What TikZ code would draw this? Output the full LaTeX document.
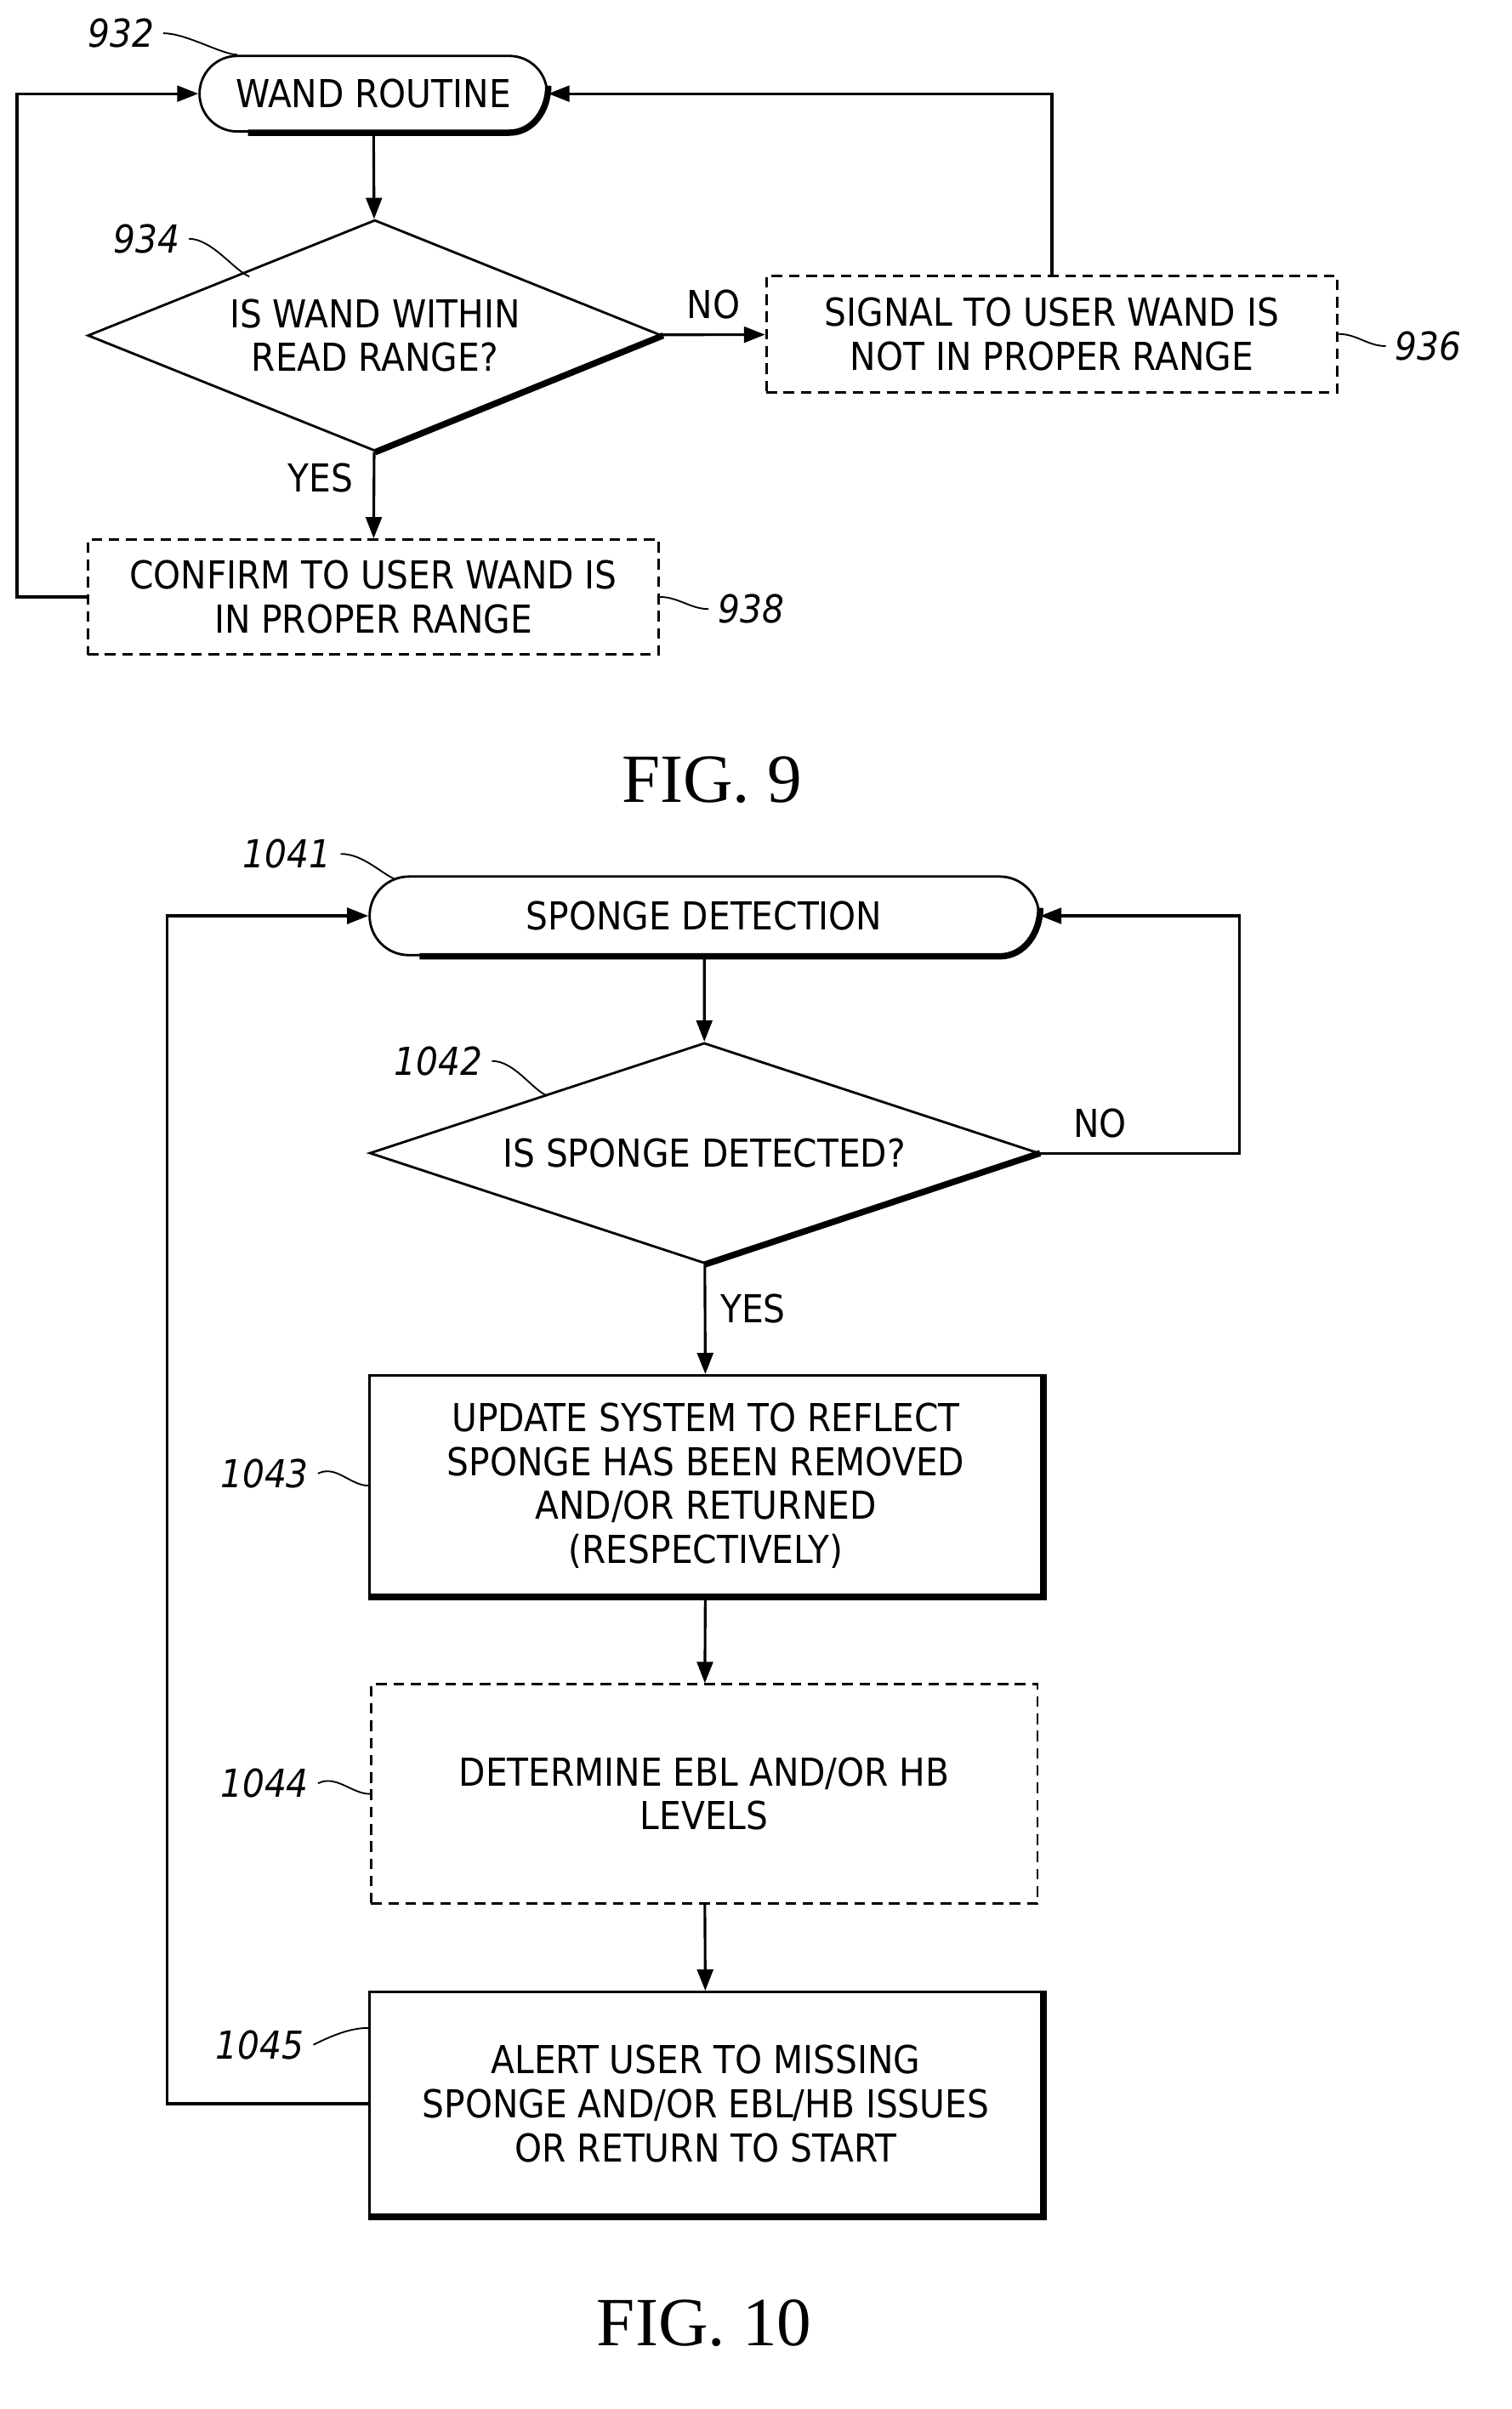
\documentclass[tikz,border=0pt]{standalone}
\usepackage{fontspec}
\setmainfont{DejaVu Sans Condensed}
\newfontfamily\figfont{Liberation Serif}
\usetikzlibrary{shapes.geometric,shapes.misc,arrows.meta}

\tikzset{
  box/.style={draw, line width=0.9pt, align=center, inner sep=0pt, font=\fontsize{14.5}{16.5}\selectfont},
  dashbox/.style={box, dash pattern=on 4pt off 2.5pt},
  term/.style={box, rounded rectangle},
  dec/.style={box, diamond, aspect=2.5},
  edge/.style={line width=2.4pt},
  flow/.style={line width=1pt, -{Triangle[length=8pt,width=6pt]}},
  ref/.style={font=\fontsize{14.5}{16.5}\selectfont\itshape},
  lbl/.style={font=\fontsize{14.5}{16.5}\selectfont},
  lead/.style={line width=0.6pt}
}

\begin{document}
\begin{tikzpicture}[x=0.02cm, y=-0.02cm]
  \useasboundingbox (0,0) rectangle (1000,1594);

  % FIG. 9
  \node[term, minimum width=4.6cm, minimum height=1cm] (wand) at (247,62) {WAND ROUTINE};
  \node[dec, minimum width=7.6cm, minimum height=3.06cm] (range) at (248,222) {IS WAND WITHIN\\READ RANGE?};
  \node[dashbox, minimum width=7.56cm, minimum height=1.54cm] (signal) at (696,221) {SIGNAL TO USER WAND IS\\NOT IN PROPER RANGE};
  \node[dashbox, minimum width=7.56cm, minimum height=1.52cm] (confirm) at (247,395) {CONFIRM TO USER WAND IS\\IN PROPER RANGE};
  \draw[edge] ([xshift=4pt]wand.south west) -- (wand.south east) to[out=0, in=-90] ([yshift=3pt]wand.east);
  \draw[edge] (range.east) -- (range.south);

  \draw[flow] (wand) -- (range);
  \draw[flow] (range) -- node[lbl, above=2pt] {NO} (signal);
  \draw[flow] (range) -- node[lbl, left=4pt, pos=0.3] {YES} (confirm);
  \draw[flow] (confirm.west) -- ++(-46,0) |- (wand.west);
  \draw[flow] (signal.north) |- (wand.east);

  \node[ref] (r932) at (80,22) {932};
  \node[ref] (r934) at (97,158) {934};
  \node[ref] (r936) at (945,229) {936};
  \node[ref] (r938) at (497,403) {938};
  \draw[lead] (r932.east) .. controls +(15,0) and +(-10,0) .. (wand.north west);
  \draw[lead] (r934.east) .. controls +(15,0) and +(-10,-4) .. (165,183);
  \draw[lead] (r936.west) .. controls +(-12,0) and +(12,0) .. (signal.east);
  \draw[lead] (r938.west) .. controls +(-12,0) and +(12,0) .. (confirm.east);

  \node[font=\figfont\fontsize{26}{30}\selectfont] (fig9) at (471,516) {FIG. 9};

  % FIG. 10
  \node[term, minimum width=8.86cm, minimum height=1.04cm] (sponge) at (466,606) {SPONGE DETECTION};
  \node[dec, minimum width=8.86cm, minimum height=2.92cm] (detect) at (466,763) {IS SPONGE DETECTED?};
  \node[box, minimum width=8.9cm, minimum height=2.92cm] (update) at (467,983) {UPDATE SYSTEM TO REFLECT\\SPONGE HAS BEEN REMOVED\\AND/OR RETURNED\\(RESPECTIVELY)};
  \node[dashbox, minimum width=8.82cm, minimum height=2.9cm] (ebl) at (466,1187) {DETERMINE EBL AND/OR HB\\LEVELS};
  \node[box, minimum width=8.9cm, minimum height=2.96cm] (alert) at (467,1392) {ALERT USER TO MISSING\\SPONGE AND/OR EBL/HB ISSUES\\OR RETURN TO START};
  \draw[edge] ([xshift=4pt]sponge.south west) -- (sponge.south east) to[out=0, in=-90] ([yshift=3pt]sponge.east);
  \draw[edge] (detect.east) -- (detect.south);
  \draw[edge] (update.north east) -- (update.south east) -- (update.south west);
  \draw[edge] (alert.north east) -- (alert.south east) -- (alert.south west);

  \draw[flow] (sponge) -- (detect);
  \draw[flow] (detect) -- node[lbl, right=2pt, pos=0.4] {YES} (update);
  \draw[flow] (update) -- (ebl);
  \draw[flow] (ebl) -- (alert);
  \draw[flow] (detect.east) -- node[lbl, above=2pt, pos=0.3] {NO} ++(132,0) |- (sponge.east);
  \draw[flow] (alert.west) -- ++(-133,0) |- (sponge.west);

  \node[ref] (r1041) at (190,565) {1041};
  \node[ref] (r1042) at (290,702) {1042};
  \node[ref] (r1043) at (175,975) {1043};
  \node[ref] (r1044) at (175,1180) {1044};
  \node[ref] (r1045) at (172,1353) {1045};
  \draw[lead] (r1041.east) .. controls +(15,0) and +(-10,-4) .. (262,582);
  \draw[lead] (r1042.east) .. controls +(15,0) and +(-10,-4) .. (362,725);
  \draw[lead] (r1043.east) .. controls +(12,-6) and +(-12,0) .. (update.west);
  \draw[lead] (r1044.east) .. controls +(12,-6) and +(-12,0) .. (ebl.west);
  \draw[lead] (r1045.east) .. controls +(12,-6) and +(-12,0) .. ([yshift=-14pt]alert.north west);

  \node[font=\figfont\fontsize{26}{30}\selectfont] (fig10) at (466,1537) {FIG. 10};
\end{tikzpicture}
\end{document}
